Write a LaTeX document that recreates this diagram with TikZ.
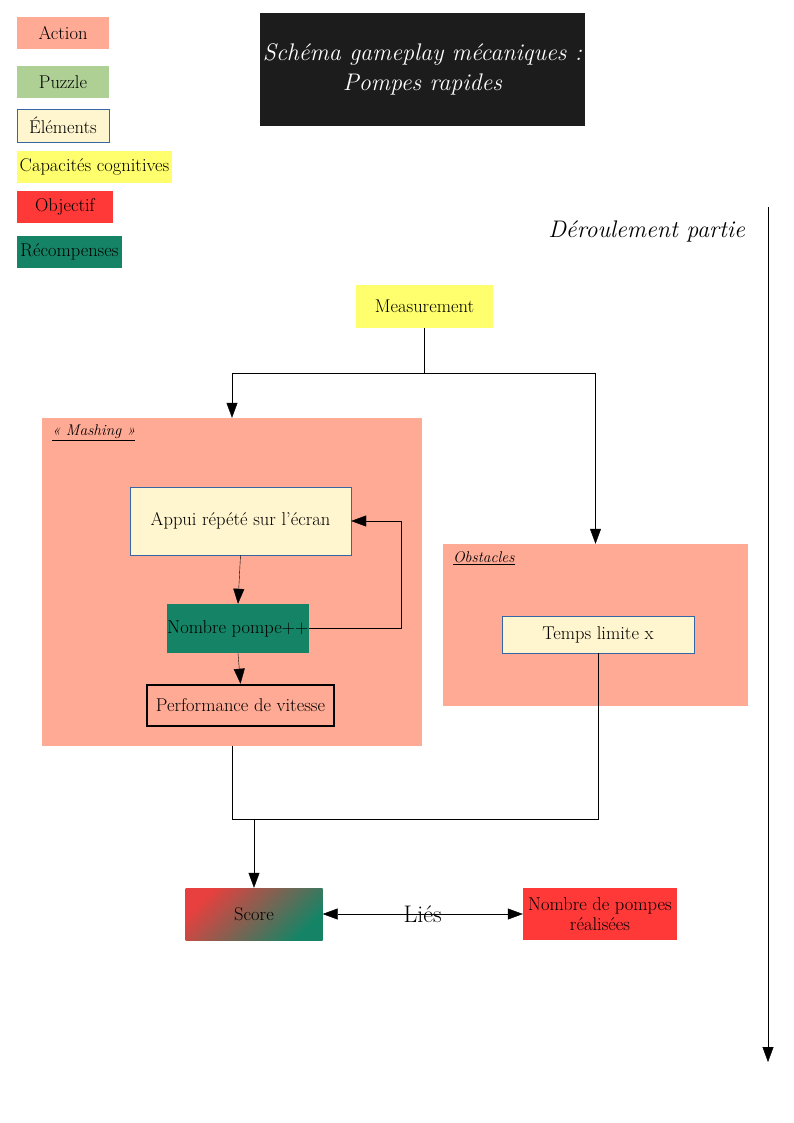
\documentclass[tikz,border=0pt]{standalone}
\usepackage{fontspec}
\usepackage{xcolor}
\usepackage{tikz}
\usetikzlibrary{arrows.meta,shapes,positioning}

\definecolor{actioncol}{HTML}{FFAA95}
\definecolor{puzzlecol}{HTML}{AFD095}
\definecolor{elemcol}{HTML}{FFF5CE}
\definecolor{elemborder}{HTML}{3465A4}
\definecolor{capacol}{HTML}{FFFF6D}
\definecolor{objcol}{HTML}{FF3838}
\definecolor{reccol}{HTML}{158466}
\definecolor{titlecol}{HTML}{1C1C1C}
\definecolor{scorered}{HTML}{E8403E}

\tikzset{
  box/.style={inner sep=0pt, align=center, font=\fontsize{18.5}{20}\selectfont},
  groupbox/.style={inner sep=0pt, fill=actioncol},
  grouplabel/.style={anchor=west, inner sep=0pt, font=\itshape\fontsize{15.5}{18}\selectfont},
  fleche/.style={-{Triangle[length=15pt,width=11pt]}},
}

\begin{document}
\begin{tikzpicture}[x=1pt,y=-1pt]
\useasboundingbox (0,0) rectangle (794,1123);

% Legend
\node[box,fill=actioncol,minimum width=92,minimum height=32] (legaction) at (63,33) {Action};
\node[box,fill=puzzlecol,minimum width=92,minimum height=32] (legpuzzle) at (63,82) {Puzzle};
\node[box,fill=elemcol,draw=elemborder,minimum width=92,minimum height=33] (legelem) at (63,125.5) {Éléments};
\node[box,fill=capacol,minimum width=155,minimum height=32] (legcapa) at (94.5,167) {Capacités cognitives};
\node[box,fill=objcol,minimum width=96,minimum height=32] (legobj) at (65,207) {Objectif};
\node[box,fill=reccol,minimum width=105,minimum height=32] (legrec) at (69.5,252) {Récompenses};

% Title
\node[fill=titlecol,text=white,minimum width=325,minimum height=113,align=center,
  font=\itshape\fontsize{24}{30}\selectfont] (titre) at (422.5,69.5)
  {Schéma gameplay mécaniques :\\Pompes rapides};

% Timeline
\node[anchor=east,inner sep=0pt,font=\itshape\fontsize{24}{28}\selectfont] (deroul) at (745,231) {Déroulement partie};
\coordinate (tstart) at (768,207);
\coordinate (tend) at (768,1062);
\draw[fleche] (tstart) -- (tend);

% Measurement
\node[box,fill=capacol,minimum width=137,minimum height=43] (measure) at (424.5,306.5) {Measurement};

% Mashing group
\node[groupbox,minimum width=380,minimum height=328] (mashing) at (232,582) {};
\node[grouplabel] (mashlabel) at ([xshift=10pt,yshift=-15pt]mashing.north west) {\underline{« Mashing »}};
\node[box,fill=elemcol,draw=elemborder,minimum width=221,minimum height=68] (appui) at (240.5,521) {Appui répété sur l’écran};
\node[box,fill=reccol,minimum width=142,minimum height=49] (nombre) at (238,628.5) {Nombre pompe++};
\node[box,fill=actioncol,draw=black,line width=2.5pt,minimum width=187,minimum height=41] (perf) at (240.5,705.5) {Performance de vitesse};

\draw[fleche] (appui.south) -- (nombre.north);
\draw[fleche] (nombre.south) -- (perf.north);
\draw[fleche] (nombre.east) -- ++(92,0) |- (appui.east);

% Obstacles group
\node[groupbox,minimum width=305,minimum height=162] (obstacles) at (595.5,625) {};
\node[grouplabel] (obslabel) at ([xshift=10pt,yshift=-14pt]obstacles.north west) {\underline{Obstacles}};
\node[box,fill=elemcol,draw=elemborder,minimum width=192,minimum height=37] (temps) at (598,634.5) {Temps limite x};

% Split after measurement
\coordinate (split) at (424.5,373);
\draw (measure.south) -- (split);
\draw[fleche] (split) -| (mashing.north);
\draw[fleche] (split) -| (obstacles.north);

% Merge towards score
\coordinate (merge) at (254,819);
\draw (mashing.south) |- (merge);
\draw (temps.south) |- (merge);

% Score and objective
\node[box,left color=scorered,right color=reccol,shading angle=45,minimum width=137,minimum height=52] (score) at (254,914) {Score};
\node[box,fill=objcol,minimum width=154,minimum height=52] (realisees) at (600,914) {Nombre de pompes\\réalisées};

\draw[fleche] (merge) -- (score.north);
\draw[{Triangle[length=15pt,width=11pt]}-{Triangle[length=15pt,width=11pt]}] (score.east) -- (realisees.west)
  node[midway,inner sep=0pt,font=\fontsize{24}{26}\selectfont] (lies) {Liés};
\end{tikzpicture}
\end{document}
